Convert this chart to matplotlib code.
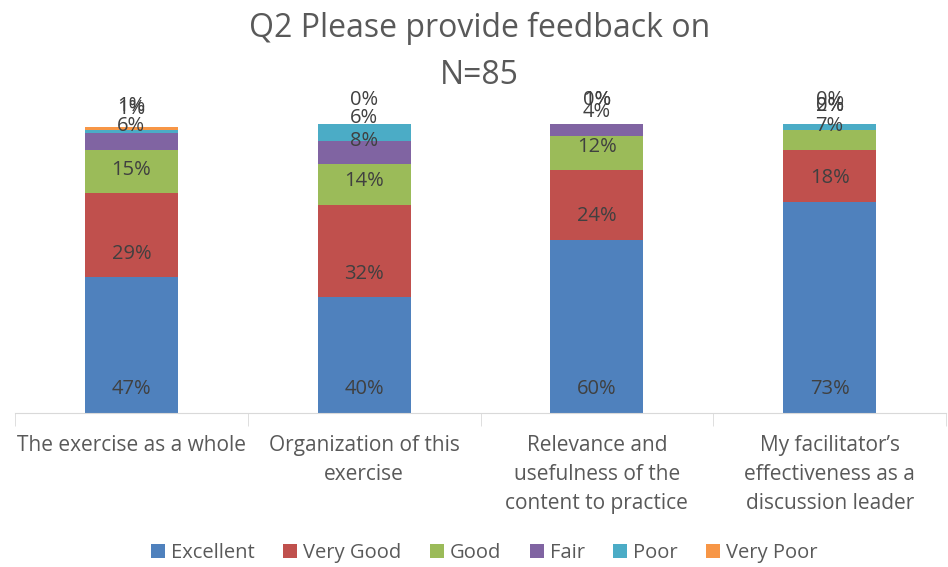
import matplotlib
matplotlib.use('Agg')
import matplotlib.pyplot as plt
import numpy as np

# 数据
categories = ['The exercise as a whole',
              'Organization of this\nexercise',
              'Relevance and\nusefulness of the\ncontent to practice',
              'My facilitator\u2019s\neffectiveness as a\ndiscussion leader']
series = ['Excellent', 'Very Good', 'Good', 'Fair', 'Poor', 'Very Poor']
excellent = [47, 40, 60, 73]
very_good = [29, 32, 24, 18]
good = [15, 14, 12, 7]
fair = [6, 8, 4, 0]
poor = [1, 6, 0, 2]
very_poor = [1, 0, 1, 0]
colors = ['#4F81BD', '#C0504D', '#9BBB59', '#8064A2', '#4BACC6', '#F79646']

plt.rcParams['font.family'] = ['Open Sans', 'DejaVu Sans']
txt = '#595959'

fig = plt.figure(figsize=(9.48, 5.67), dpi=100)
ax = fig.add_axes([15/948, 1 - 413/567, 931/948, 289/567])

x = np.arange(len(categories))
bottom = np.zeros(len(categories))
handles = []
for name, vals, c in zip(series, [excellent, very_good, good, fair, poor, very_poor], colors):
    b = ax.bar(x, vals, 0.4, bottom=bottom, color=c, label=name)
    handles.append(b)
    for xi, v, b0 in zip(x, vals, bottom):
        ax.annotate('%d%%' % v, (xi, b0), xytext=(0, 17), textcoords='offset points',
                    ha='center', va='center', fontsize=14.5, color='#404040')
    bottom = bottom + np.array(vals)

ax.set_xlim(-0.5, len(categories) - 0.5)
ax.set_ylim(0, 100)
ax.set_yticks([])
for s in ['top', 'right', 'left']:
    ax.spines[s].set_visible(False)
ax.spines['bottom'].set_color('#D9D9D9')
ax.set_xticks(x)
ax.set_xticklabels(categories, fontsize=15, color=txt, linespacing=1.5)
ax.tick_params(axis='x', which='major', length=0, pad=16)
ax.set_xticks(np.arange(-0.5, len(categories)), minor=True)
ax.tick_params(axis='x', which='minor', length=9, color='#D9D9D9')

fig.text(0.506, 1 - 28/567, 'Q2 Please provide feedback on', ha='center', va='center',
         fontsize=23, color=txt)
fig.text(0.506, 1 - 75/567, 'N=85', ha='center', va='center', fontsize=23, color=txt)

fig.legend(handles, series, loc='center', bbox_to_anchor=(0.511, 1 - 553/567), ncol=6,
           frameon=False, fontsize=14.5, handlelength=0.7, handleheight=0.7,
           handletextpad=0.3, columnspacing=1.4, labelcolor=txt)

fig.savefig('out.png', dpi=100)
